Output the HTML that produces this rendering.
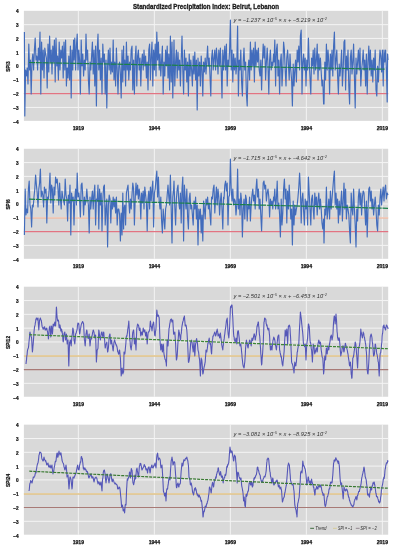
<!DOCTYPE html><html><head><meta charset="utf-8"><style>html,body{margin:0;padding:0;background:#fff;overflow:hidden}svg{display:block}text{font-family:"Liberation Sans",sans-serif}svg{will-change:transform}</style></head><body>
<svg width="395" height="550" viewBox="0 0 395 550">
<rect width="395" height="550" fill="#fff"/>
<text x="206" y="8.7" font-size="6.7" font-weight="bold" text-anchor="middle" textLength="146" lengthAdjust="spacingAndGlyphs" fill="#1a1a1a" stroke="#1a1a1a" stroke-width="0.3">Standardized Precipitation Index: Beirut, Lebanon</text>
<rect x="23.9" y="10.80" width="364.30" height="110.05" fill="#d9d9d9"/>
<line x1="23.9" x2="388.2" y1="107.45" y2="107.45" stroke="#f4f4f4" stroke-width="1"/>
<line x1="23.9" x2="388.2" y1="93.65" y2="93.65" stroke="#f4f4f4" stroke-width="1"/>
<line x1="23.9" x2="388.2" y1="79.85" y2="79.85" stroke="#f4f4f4" stroke-width="1"/>
<line x1="23.9" x2="388.2" y1="66.05" y2="66.05" stroke="#f4f4f4" stroke-width="1"/>
<line x1="23.9" x2="388.2" y1="52.25" y2="52.25" stroke="#f4f4f4" stroke-width="1"/>
<line x1="23.9" x2="388.2" y1="38.45" y2="38.45" stroke="#f4f4f4" stroke-width="1"/>
<line x1="23.9" x2="388.2" y1="24.65" y2="24.65" stroke="#f4f4f4" stroke-width="1"/>
<line x1="78.35" x2="78.35" y1="10.80" y2="120.85" stroke="#f4f4f4" stroke-width="1"/>
<line x1="154.35" x2="154.35" y1="10.80" y2="120.85" stroke="#f4f4f4" stroke-width="1"/>
<line x1="230.35" x2="230.35" y1="10.80" y2="120.85" stroke="#f4f4f4" stroke-width="1"/>
<line x1="306.35" x2="306.35" y1="10.80" y2="120.85" stroke="#f4f4f4" stroke-width="1"/>
<line x1="382.35" x2="382.35" y1="10.80" y2="120.85" stroke="#f4f4f4" stroke-width="1"/>
<text x="18.5" y="123.65" font-size="4.7" font-weight="bold" text-anchor="end" fill="#111" stroke="#111" stroke-width="0.22">−4</text>
<text x="18.5" y="109.85" font-size="4.7" font-weight="bold" text-anchor="end" fill="#111" stroke="#111" stroke-width="0.22">−3</text>
<text x="18.5" y="96.05" font-size="4.7" font-weight="bold" text-anchor="end" fill="#111" stroke="#111" stroke-width="0.22">−2</text>
<text x="18.5" y="82.25" font-size="4.7" font-weight="bold" text-anchor="end" fill="#111" stroke="#111" stroke-width="0.22">−1</text>
<text x="18.5" y="68.45" font-size="4.7" font-weight="bold" text-anchor="end" fill="#111" stroke="#111" stroke-width="0.22">0</text>
<text x="18.5" y="54.65" font-size="4.7" font-weight="bold" text-anchor="end" fill="#111" stroke="#111" stroke-width="0.22">1</text>
<text x="18.5" y="40.85" font-size="4.7" font-weight="bold" text-anchor="end" fill="#111" stroke="#111" stroke-width="0.22">2</text>
<text x="18.5" y="27.05" font-size="4.7" font-weight="bold" text-anchor="end" fill="#111" stroke="#111" stroke-width="0.22">3</text>
<text x="18.5" y="13.25" font-size="4.7" font-weight="bold" text-anchor="end" fill="#111" stroke="#111" stroke-width="0.22">4</text>
<text x="78.35" y="130.05" font-size="5.9" font-weight="bold" text-anchor="middle" textLength="11.4" lengthAdjust="spacingAndGlyphs" fill="#111" stroke="#111" stroke-width="0.25">1919</text>
<text x="154.35" y="130.05" font-size="5.9" font-weight="bold" text-anchor="middle" textLength="11.4" lengthAdjust="spacingAndGlyphs" fill="#111" stroke="#111" stroke-width="0.25">1944</text>
<text x="230.35" y="130.05" font-size="5.9" font-weight="bold" text-anchor="middle" textLength="11.4" lengthAdjust="spacingAndGlyphs" fill="#111" stroke="#111" stroke-width="0.25">1969</text>
<text x="306.35" y="130.05" font-size="5.9" font-weight="bold" text-anchor="middle" textLength="11.4" lengthAdjust="spacingAndGlyphs" fill="#111" stroke="#111" stroke-width="0.25">1994</text>
<text x="382.35" y="130.05" font-size="5.9" font-weight="bold" text-anchor="middle" textLength="11.4" lengthAdjust="spacingAndGlyphs" fill="#111" stroke="#111" stroke-width="0.25">2019</text>
<text x="0" y="0" transform="translate(10.1,66.55) rotate(-90)" font-size="5.6" font-weight="bold" text-anchor="middle" fill="#111" stroke="#111" stroke-width="0.22" textLength="10.2" lengthAdjust="spacingAndGlyphs">SPI3</text>
<line x1="23.9" x2="388.2" y1="80.05" y2="80.05" stroke="#f2a888" stroke-width="1.2"/>
<line x1="23.9" x2="388.2" y1="93.65" y2="93.65" stroke="#e27482" stroke-width="1.2"/>
<polyline fill="none" stroke="#426cbc" stroke-width="1.15" stroke-linejoin="round" points="24.40,32.00 24.80,116.00 25.60,70.00 26.40,76.00 27.20,68.00 28.00,84.00 28.80,44.00 29.60,70.00 30.40,60.00 31.20,94.00 32.00,62.00 32.80,54.00 33.60,70.00 34.40,50.00 35.20,38.00 36.00,60.00 36.80,56.00 37.60,70.00 38.40,48.00 39.20,60.00 40.00,32.00 40.80,94.00 41.60,42.00 42.40,70.00 43.20,50.00 44.00,78.00 44.80,48.00 45.60,54.00 46.40,58.00 47.20,88.00 48.00,44.00 48.80,72.00 49.60,36.00 50.40,62.00 51.20,50.00 52.00,74.00 52.80,46.00 53.60,62.00 54.40,40.00 55.20,82.00 56.00,38.00 56.80,66.00 57.60,56.00 58.40,80.00 59.20,42.00 60.00,70.00 60.80,50.00 61.60,58.00 62.40,46.00 63.20,78.00 64.00,42.00 64.80,70.00 65.60,40.00 66.40,86.00 67.20,68.00 68.00,78.00 68.80,56.00 69.60,80.00 70.40,46.00 71.20,98.00 72.00,50.00 72.80,70.00 73.60,40.00 74.00,60.00 74.80,38.00 75.60,70.00 76.40,46.00 77.20,34.00 78.00,70.00 78.80,50.00 79.60,60.00 80.40,94.00 81.20,40.00 82.00,66.00 82.80,54.00 83.60,76.00 84.40,60.00 85.20,70.00 86.00,34.00 86.80,60.00 87.60,50.00 88.40,80.00 89.20,94.00 90.00,62.00 90.80,70.00 91.60,56.00 92.40,42.00 93.20,74.00 94.00,50.00 94.80,86.00 95.60,46.00 96.40,106.00 97.20,50.00 98.00,34.00 98.80,70.00 99.60,50.00 100.40,80.00 101.20,58.00 102.00,94.00 102.80,44.00 103.60,62.00 104.40,54.00 105.20,94.00 106.00,60.00 106.80,108.00 107.60,66.00 108.40,50.00 109.20,70.00 110.00,48.00 110.80,74.00 111.60,62.00 112.40,72.00 113.20,40.00 114.00,80.00 114.80,62.00 115.60,86.00 116.40,48.00 117.20,70.00 118.00,94.00 118.80,66.00 119.60,62.00 120.40,74.00 121.20,98.00 122.00,50.00 122.80,82.00 123.60,46.00 124.00,70.00 124.80,60.00 125.60,86.00 126.40,42.00 127.20,70.00 128.00,56.00 128.80,80.00 129.60,62.00 130.40,70.00 131.20,50.00 132.00,46.00 132.80,90.00 133.60,60.00 134.40,94.00 135.20,58.00 136.00,46.00 136.80,86.00 137.60,56.00 138.40,50.00 139.20,70.00 140.00,58.00 140.80,86.00 141.60,62.00 142.40,54.00 143.20,70.00 144.00,50.00 144.80,66.00 145.60,56.00 146.40,78.00 147.20,62.00 148.00,90.00 148.80,50.00 149.60,44.00 150.40,80.00 151.20,56.00 152.00,42.00 152.80,86.00 153.60,50.00 154.40,70.00 155.20,44.00 156.00,76.00 156.80,32.00 157.60,60.00 158.40,42.00 159.20,70.00 160.00,54.00 160.80,76.00 161.60,60.00 162.40,46.00 163.20,94.00 164.00,62.00 164.80,76.00 165.60,50.00 166.40,66.00 167.20,46.00 168.00,78.00 168.80,54.00 169.60,90.00 170.40,36.00 171.20,82.00 172.00,42.00 172.80,98.00 173.60,62.00 174.00,40.00 174.80,86.00 175.60,62.00 176.40,50.00 177.20,78.00 178.00,52.00 178.80,70.00 179.60,60.00 180.40,86.00 181.20,60.00 182.00,36.00 182.80,70.00 183.60,94.00 184.40,50.00 185.20,70.00 186.00,58.00 186.80,82.00 187.60,62.00 188.40,96.00 189.20,54.00 190.00,76.00 190.80,60.00 191.60,70.00 192.40,86.00 193.20,56.00 194.00,74.00 194.80,52.00 195.60,80.00 196.40,60.00 197.20,110.00 198.00,58.00 198.80,76.00 199.60,62.00 200.40,86.00 201.20,56.00 202.00,70.00 202.80,96.00 203.60,62.00 204.40,72.00 205.20,58.00 206.00,74.00 206.80,60.00 207.60,46.00 208.40,66.00 209.20,58.00 210.00,76.00 210.80,96.00 211.60,58.00 212.40,50.00 213.20,70.00 214.00,58.00 214.80,50.00 215.60,70.00 216.40,48.00 217.20,58.00 218.00,74.00 218.80,50.00 219.60,66.00 220.40,48.00 221.20,70.00 222.00,98.00 222.80,50.00 223.60,70.00 224.00,60.00 224.80,46.00 225.60,70.00 226.40,44.00 227.20,86.00 228.00,60.00 228.80,66.00 229.60,50.00 230.40,20.00 231.20,70.00 232.00,50.00 232.80,82.00 233.60,54.00 234.40,70.00 235.20,58.00 236.00,74.00 236.80,64.00 237.60,26.00 238.40,96.00 239.20,60.00 240.00,70.00 240.80,50.00 241.60,82.00 242.40,96.00 243.20,62.00 244.00,48.00 244.80,70.00 245.60,62.00 246.40,94.00 247.20,106.00 248.00,70.00 248.80,60.00 249.60,80.00 250.40,42.00 251.20,70.00 252.00,50.00 252.80,66.00 253.60,48.00 254.40,82.00 255.20,42.00 256.00,66.00 256.80,50.00 257.60,62.00 258.40,48.00 259.20,70.00 260.00,76.00 260.80,60.00 261.60,90.00 262.40,62.00 263.20,44.00 264.00,58.00 264.80,46.00 265.60,80.00 266.40,62.00 267.20,48.00 268.00,66.00 268.80,94.00 269.60,60.00 270.40,50.00 271.20,70.00 272.00,62.00 272.80,66.00 273.60,54.00 274.00,62.00 274.80,40.00 275.60,86.00 276.40,50.00 277.20,44.00 278.00,76.00 278.80,60.00 279.60,94.00 280.40,62.00 281.20,54.00 282.00,86.00 282.80,70.00 283.60,42.00 284.40,50.00 285.20,70.00 286.00,86.00 286.80,58.00 287.60,50.00 288.40,64.00 289.20,80.00 290.00,54.00 290.80,70.00 291.60,80.00 292.40,106.00 293.20,64.00 294.00,86.00 294.80,70.00 295.60,60.00 296.40,82.00 297.20,50.00 298.00,62.00 298.80,46.00 299.60,70.00 300.40,36.00 301.20,30.00 302.00,94.00 302.80,62.00 303.60,54.00 304.40,70.00 305.20,58.00 306.00,86.00 306.80,60.00 307.60,70.00 308.40,38.00 309.20,62.00 310.00,78.00 310.80,94.00 311.60,58.00 312.40,66.00 313.20,50.00 314.00,74.00 314.80,48.00 315.60,70.00 316.40,60.00 317.20,44.00 318.00,80.00 318.80,54.00 319.60,70.00 320.40,58.00 321.20,72.00 322.00,86.00 322.80,80.00 323.60,104.00 324.00,104.00 324.80,62.00 325.60,80.00 326.40,44.00 327.20,70.00 328.00,50.00 328.80,62.00 329.60,94.00 330.40,54.00 331.20,70.00 332.00,50.00 332.80,76.00 333.60,46.00 334.40,32.00 335.20,70.00 336.00,60.00 336.80,50.00 337.60,76.00 338.40,94.00 339.20,64.00 340.00,76.00 340.80,66.00 341.60,50.00 342.40,86.00 343.20,70.00 344.00,42.00 344.80,40.00 345.60,90.00 346.40,56.00 347.20,70.00 348.00,50.00 348.80,86.00 349.60,104.00 350.40,58.00 351.20,50.00 352.00,74.00 352.80,62.00 353.60,44.00 354.40,76.00 355.20,108.00 356.00,58.00 356.80,74.00 357.60,62.00 358.40,50.00 359.20,70.00 360.00,48.00 360.80,86.00 361.60,70.00 362.40,62.00 363.20,50.00 364.00,70.00 364.80,60.00 365.60,86.00 366.40,54.00 367.20,94.00 368.00,62.00 368.80,46.00 369.60,70.00 370.40,50.00 371.20,76.00 372.00,60.00 372.80,82.00 373.60,58.00 374.40,70.00 375.20,50.00 376.00,90.00 376.80,96.00 377.60,66.00 378.40,82.00 379.20,64.00 380.00,50.00 380.80,56.00 381.60,72.00 382.40,50.00 383.20,86.00 384.00,50.00 384.80,62.00 385.60,50.00 386.40,70.00 387.20,102.00 387.60,54.00 388.00,60.00"/>
<line x1="29" y1="62.5" x2="384.6" y2="69.2" stroke="#1b8048" stroke-width="1.2" stroke-dasharray="6 0.8"/>
<text x="233.5" y="21.75" font-size="5.3" font-style="italic" fill="#333" textLength="93.5" lengthAdjust="spacingAndGlyphs">y = −1.237 × 10<tspan dy='-1.6' font-size='3.2'>−5</tspan><tspan dy='1.6'> × x + −5.219 × 10</tspan><tspan dy='-1.6' font-size='3.2'>−2</tspan></text>
<rect x="23.9" y="148.75" width="364.30" height="110.05" fill="#d9d9d9"/>
<line x1="23.9" x2="388.2" y1="245.40" y2="245.40" stroke="#f4f4f4" stroke-width="1"/>
<line x1="23.9" x2="388.2" y1="231.60" y2="231.60" stroke="#f4f4f4" stroke-width="1"/>
<line x1="23.9" x2="388.2" y1="217.80" y2="217.80" stroke="#f4f4f4" stroke-width="1"/>
<line x1="23.9" x2="388.2" y1="204.00" y2="204.00" stroke="#f4f4f4" stroke-width="1"/>
<line x1="23.9" x2="388.2" y1="190.20" y2="190.20" stroke="#f4f4f4" stroke-width="1"/>
<line x1="23.9" x2="388.2" y1="176.40" y2="176.40" stroke="#f4f4f4" stroke-width="1"/>
<line x1="23.9" x2="388.2" y1="162.60" y2="162.60" stroke="#f4f4f4" stroke-width="1"/>
<line x1="78.35" x2="78.35" y1="148.75" y2="258.80" stroke="#f4f4f4" stroke-width="1"/>
<line x1="154.35" x2="154.35" y1="148.75" y2="258.80" stroke="#f4f4f4" stroke-width="1"/>
<line x1="230.35" x2="230.35" y1="148.75" y2="258.80" stroke="#f4f4f4" stroke-width="1"/>
<line x1="306.35" x2="306.35" y1="148.75" y2="258.80" stroke="#f4f4f4" stroke-width="1"/>
<line x1="382.35" x2="382.35" y1="148.75" y2="258.80" stroke="#f4f4f4" stroke-width="1"/>
<text x="18.5" y="261.60" font-size="4.7" font-weight="bold" text-anchor="end" fill="#111" stroke="#111" stroke-width="0.22">−4</text>
<text x="18.5" y="247.80" font-size="4.7" font-weight="bold" text-anchor="end" fill="#111" stroke="#111" stroke-width="0.22">−3</text>
<text x="18.5" y="234.00" font-size="4.7" font-weight="bold" text-anchor="end" fill="#111" stroke="#111" stroke-width="0.22">−2</text>
<text x="18.5" y="220.20" font-size="4.7" font-weight="bold" text-anchor="end" fill="#111" stroke="#111" stroke-width="0.22">−1</text>
<text x="18.5" y="206.40" font-size="4.7" font-weight="bold" text-anchor="end" fill="#111" stroke="#111" stroke-width="0.22">0</text>
<text x="18.5" y="192.60" font-size="4.7" font-weight="bold" text-anchor="end" fill="#111" stroke="#111" stroke-width="0.22">1</text>
<text x="18.5" y="178.80" font-size="4.7" font-weight="bold" text-anchor="end" fill="#111" stroke="#111" stroke-width="0.22">2</text>
<text x="18.5" y="165.00" font-size="4.7" font-weight="bold" text-anchor="end" fill="#111" stroke="#111" stroke-width="0.22">3</text>
<text x="18.5" y="151.20" font-size="4.7" font-weight="bold" text-anchor="end" fill="#111" stroke="#111" stroke-width="0.22">4</text>
<text x="78.35" y="268.00" font-size="5.9" font-weight="bold" text-anchor="middle" textLength="11.4" lengthAdjust="spacingAndGlyphs" fill="#111" stroke="#111" stroke-width="0.25">1919</text>
<text x="154.35" y="268.00" font-size="5.9" font-weight="bold" text-anchor="middle" textLength="11.4" lengthAdjust="spacingAndGlyphs" fill="#111" stroke="#111" stroke-width="0.25">1944</text>
<text x="230.35" y="268.00" font-size="5.9" font-weight="bold" text-anchor="middle" textLength="11.4" lengthAdjust="spacingAndGlyphs" fill="#111" stroke="#111" stroke-width="0.25">1969</text>
<text x="306.35" y="268.00" font-size="5.9" font-weight="bold" text-anchor="middle" textLength="11.4" lengthAdjust="spacingAndGlyphs" fill="#111" stroke="#111" stroke-width="0.25">1994</text>
<text x="382.35" y="268.00" font-size="5.9" font-weight="bold" text-anchor="middle" textLength="11.4" lengthAdjust="spacingAndGlyphs" fill="#111" stroke="#111" stroke-width="0.25">2019</text>
<text x="0" y="0" transform="translate(10.1,204.50) rotate(-90)" font-size="5.6" font-weight="bold" text-anchor="middle" fill="#111" stroke="#111" stroke-width="0.22" textLength="10.2" lengthAdjust="spacingAndGlyphs">SPI6</text>
<line x1="23.9" x2="388.2" y1="218.00" y2="218.00" stroke="#f2a888" stroke-width="1.2"/>
<line x1="23.9" x2="388.2" y1="231.60" y2="231.60" stroke="#e27482" stroke-width="1.2"/>
<polyline fill="none" stroke="#426cbc" stroke-width="1.15" stroke-linejoin="round" points="24.40,235.00 25.20,189.00 26.00,215.00 26.80,209.00 27.60,213.00 28.40,189.00 29.20,181.00 30.00,205.00 30.80,209.00 31.60,227.00 32.40,205.00 33.20,207.00 34.00,197.00 34.80,189.00 35.60,175.00 36.40,185.00 37.20,193.00 38.00,207.00 38.80,189.00 39.60,183.00 40.40,169.00 41.20,197.00 42.00,191.00 42.80,195.00 43.60,207.00 44.40,187.00 45.20,193.00 46.00,189.00 46.80,223.00 47.60,197.00 48.40,199.00 49.20,189.00 50.00,173.00 50.80,203.00 51.60,185.00 52.40,189.00 53.20,213.00 54.00,187.00 54.80,195.00 55.60,177.00 56.40,183.00 57.20,179.00 58.00,189.00 58.80,205.00 59.60,183.00 60.40,199.00 61.20,209.00 62.00,191.00 62.80,197.00 63.60,201.00 64.40,205.00 65.20,179.00 66.00,195.00 66.80,199.00 67.60,221.00 68.40,195.00 69.20,203.00 70.00,185.00 70.80,235.00 71.60,193.00 72.40,201.00 73.20,197.00 74.00,225.00 74.80,199.00 75.60,189.00 76.40,205.00 77.20,173.00 78.00,197.00 78.80,193.00 79.60,201.00 80.40,217.00 81.20,185.00 82.00,183.00 82.80,197.00 83.60,215.00 84.40,197.00 85.20,205.00 86.00,201.00 86.80,189.00 87.60,199.00 88.40,205.00 89.20,233.00 90.00,197.00 90.80,209.00 91.60,199.00 92.40,191.00 93.20,209.00 94.00,193.00 94.80,185.00 95.60,225.00 96.40,199.00 97.20,201.00 98.00,185.00 98.80,229.00 99.60,189.00 100.40,205.00 101.20,193.00 102.00,231.00 102.80,201.00 103.60,187.00 104.40,185.00 105.20,225.00 106.00,209.00 106.80,199.00 107.60,247.00 108.40,205.00 109.20,195.00 110.00,199.00 110.80,223.00 111.60,201.00 112.40,209.00 113.20,197.00 114.00,207.00 114.80,199.00 115.60,213.00 116.40,197.00 117.20,225.00 118.00,209.00 118.80,209.00 119.60,215.00 120.40,241.00 121.20,213.00 122.00,235.00 122.80,193.00 123.60,229.00 124.00,209.00 124.80,205.00 125.60,225.00 126.40,193.00 127.20,189.00 128.00,185.00 128.80,201.00 129.60,213.00 130.40,199.00 131.20,209.00 132.00,195.00 132.80,183.00 133.60,189.00 134.40,225.00 135.20,199.00 136.00,183.00 136.80,195.00 137.60,185.00 138.40,199.00 139.20,189.00 140.00,197.00 140.80,219.00 141.60,193.00 142.40,203.00 143.20,191.00 144.00,209.00 144.80,187.00 145.60,195.00 146.40,203.00 147.20,231.00 148.00,199.00 148.80,191.00 149.60,209.00 150.40,187.00 151.20,201.00 152.00,189.00 152.80,181.00 153.60,227.00 154.40,193.00 155.20,189.00 156.00,179.00 156.80,171.00 157.60,197.00 158.40,177.00 159.20,201.00 160.00,209.00 160.80,197.00 161.60,221.00 162.40,233.00 163.20,209.00 164.00,219.00 164.80,229.00 165.60,209.00 166.40,205.00 167.20,195.00 168.00,185.00 168.80,197.00 169.60,205.00 170.40,175.00 171.20,209.00 172.00,243.00 172.80,197.00 173.60,189.00 174.00,181.00 174.80,207.00 175.60,225.00 176.40,199.00 177.20,189.00 178.00,185.00 178.80,203.00 179.60,209.00 180.40,193.00 181.20,223.00 182.00,189.00 182.80,177.00 183.60,241.00 184.40,185.00 185.20,199.00 186.00,209.00 186.80,189.00 187.60,217.00 188.40,229.00 189.20,199.00 190.00,193.00 190.80,209.00 191.60,205.00 192.40,215.00 193.20,225.00 194.00,201.00 194.80,209.00 195.60,197.00 196.40,219.00 197.20,205.00 198.00,245.00 198.80,209.00 199.60,219.00 200.40,209.00 201.20,233.00 202.00,215.00 202.80,241.00 203.60,201.00 204.40,209.00 205.20,219.00 206.00,199.00 206.80,205.00 207.60,197.00 208.40,209.00 209.20,203.00 210.00,215.00 210.80,225.00 211.60,197.00 212.40,199.00 213.20,189.00 214.00,185.00 214.80,213.00 215.60,199.00 216.40,187.00 217.20,205.00 218.00,189.00 218.80,197.00 219.60,215.00 220.40,201.00 221.20,193.00 222.00,209.00 222.80,229.00 223.60,197.00 224.00,199.00 224.80,185.00 225.60,181.00 226.40,191.00 227.20,183.00 228.00,225.00 228.80,197.00 229.60,195.00 230.40,159.00 231.20,189.00 232.00,201.00 232.80,189.00 233.60,205.00 234.40,199.00 235.20,201.00 236.00,215.00 236.80,205.00 237.60,169.00 238.40,209.00 239.20,199.00 240.00,215.00 240.80,193.00 241.60,201.00 242.40,237.00 243.20,209.00 244.00,199.00 244.80,219.00 245.60,195.00 246.40,199.00 247.20,221.00 248.00,205.00 248.80,209.00 249.60,197.00 250.40,221.00 251.20,205.00 252.00,195.00 252.80,189.00 253.60,201.00 254.40,195.00 255.20,209.00 256.00,189.00 256.80,179.00 257.60,197.00 258.40,189.00 259.20,209.00 260.00,199.00 260.80,215.00 261.60,231.00 262.40,205.00 263.20,183.00 264.00,181.00 264.80,189.00 265.60,185.00 266.40,201.00 267.20,193.00 268.00,189.00 268.80,197.00 269.60,217.00 270.40,199.00 271.20,205.00 272.00,201.00 272.80,209.00 273.60,197.00 274.00,201.00 274.80,189.00 275.60,209.00 276.40,199.00 277.20,181.00 278.00,209.00 278.80,203.00 279.60,215.00 280.40,237.00 281.20,199.00 282.00,225.00 282.80,213.00 283.60,189.00 284.40,179.00 285.20,199.00 286.00,189.00 286.80,223.00 287.60,191.00 288.40,209.00 289.20,185.00 290.00,201.00 290.80,219.00 291.60,209.00 292.40,245.00 293.20,201.00 294.00,225.00 294.80,205.00 295.60,215.00 296.40,209.00 297.20,205.00 298.00,197.00 298.80,187.00 299.60,173.00 300.40,189.00 301.20,223.00 302.00,199.00 302.80,193.00 303.60,211.00 304.40,225.00 305.20,199.00 306.00,209.00 306.80,201.00 307.60,225.00 308.40,177.00 309.20,193.00 310.00,209.00 310.80,225.00 311.60,199.00 312.40,195.00 313.20,209.00 314.00,219.00 314.80,193.00 315.60,205.00 316.40,197.00 317.20,215.00 318.00,201.00 318.80,193.00 319.60,209.00 320.40,199.00 321.20,209.00 322.00,223.00 322.80,229.00 323.60,219.00 324.00,243.00 324.80,209.00 325.60,215.00 326.40,187.00 327.20,219.00 328.00,209.00 328.80,199.00 329.60,219.00 330.40,191.00 331.20,209.00 332.00,199.00 332.80,189.00 333.60,179.00 334.40,171.00 335.20,205.00 336.00,193.00 336.80,209.00 337.60,199.00 338.40,223.00 339.20,201.00 340.00,215.00 340.80,203.00 341.60,191.00 342.40,221.00 343.20,201.00 344.00,183.00 344.80,209.00 345.60,189.00 346.40,219.00 347.20,205.00 348.00,209.00 348.80,215.00 349.60,231.00 350.40,243.00 351.20,193.00 352.00,209.00 352.80,215.00 353.60,189.00 354.40,209.00 355.20,225.00 356.00,247.00 356.80,209.00 357.60,221.00 358.40,197.00 359.20,189.00 360.00,205.00 360.80,193.00 361.60,215.00 362.40,197.00 363.20,191.00 364.00,193.00 364.80,209.00 365.60,225.00 366.40,201.00 367.20,237.00 368.00,209.00 368.80,189.00 369.60,187.00 370.40,201.00 371.20,191.00 372.00,209.00 372.80,199.00 373.60,215.00 374.40,205.00 375.20,197.00 376.00,209.00 376.80,225.00 377.60,231.00 378.40,205.00 379.20,215.00 380.00,199.00 380.80,189.00 381.60,205.00 382.40,195.00 383.20,187.00 384.00,201.00 384.80,189.00 385.60,185.00 386.40,199.00 387.20,193.00 388.00,195.00"/>
<line x1="29" y1="199.2" x2="388" y2="208.3" stroke="#1b8048" stroke-width="1.2" stroke-dasharray="6 0.8"/>
<text x="233.5" y="159.70" font-size="5.3" font-style="italic" fill="#333" textLength="93.5" lengthAdjust="spacingAndGlyphs">y = −1.715 × 10<tspan dy='-1.6' font-size='3.2'>−5</tspan><tspan dy='1.6'> × x + −4.642 × 10</tspan><tspan dy='-1.6' font-size='3.2'>−2</tspan></text>
<rect x="23.9" y="286.70" width="364.30" height="110.05" fill="#d9d9d9"/>
<line x1="23.9" x2="388.2" y1="383.35" y2="383.35" stroke="#f4f4f4" stroke-width="1"/>
<line x1="23.9" x2="388.2" y1="369.55" y2="369.55" stroke="#f4f4f4" stroke-width="1"/>
<line x1="23.9" x2="388.2" y1="355.75" y2="355.75" stroke="#f4f4f4" stroke-width="1"/>
<line x1="23.9" x2="388.2" y1="341.95" y2="341.95" stroke="#f4f4f4" stroke-width="1"/>
<line x1="23.9" x2="388.2" y1="328.15" y2="328.15" stroke="#f4f4f4" stroke-width="1"/>
<line x1="23.9" x2="388.2" y1="314.35" y2="314.35" stroke="#f4f4f4" stroke-width="1"/>
<line x1="23.9" x2="388.2" y1="300.55" y2="300.55" stroke="#f4f4f4" stroke-width="1"/>
<line x1="78.35" x2="78.35" y1="286.70" y2="396.75" stroke="#f4f4f4" stroke-width="1"/>
<line x1="154.35" x2="154.35" y1="286.70" y2="396.75" stroke="#f4f4f4" stroke-width="1"/>
<line x1="230.35" x2="230.35" y1="286.70" y2="396.75" stroke="#f4f4f4" stroke-width="1"/>
<line x1="306.35" x2="306.35" y1="286.70" y2="396.75" stroke="#f4f4f4" stroke-width="1"/>
<line x1="382.35" x2="382.35" y1="286.70" y2="396.75" stroke="#f4f4f4" stroke-width="1"/>
<text x="18.5" y="399.55" font-size="4.7" font-weight="bold" text-anchor="end" fill="#111" stroke="#111" stroke-width="0.22">−4</text>
<text x="18.5" y="385.75" font-size="4.7" font-weight="bold" text-anchor="end" fill="#111" stroke="#111" stroke-width="0.22">−3</text>
<text x="18.5" y="371.95" font-size="4.7" font-weight="bold" text-anchor="end" fill="#111" stroke="#111" stroke-width="0.22">−2</text>
<text x="18.5" y="358.15" font-size="4.7" font-weight="bold" text-anchor="end" fill="#111" stroke="#111" stroke-width="0.22">−1</text>
<text x="18.5" y="344.35" font-size="4.7" font-weight="bold" text-anchor="end" fill="#111" stroke="#111" stroke-width="0.22">0</text>
<text x="18.5" y="330.55" font-size="4.7" font-weight="bold" text-anchor="end" fill="#111" stroke="#111" stroke-width="0.22">1</text>
<text x="18.5" y="316.75" font-size="4.7" font-weight="bold" text-anchor="end" fill="#111" stroke="#111" stroke-width="0.22">2</text>
<text x="18.5" y="302.95" font-size="4.7" font-weight="bold" text-anchor="end" fill="#111" stroke="#111" stroke-width="0.22">3</text>
<text x="18.5" y="289.15" font-size="4.7" font-weight="bold" text-anchor="end" fill="#111" stroke="#111" stroke-width="0.22">4</text>
<text x="78.35" y="405.95" font-size="5.9" font-weight="bold" text-anchor="middle" textLength="11.4" lengthAdjust="spacingAndGlyphs" fill="#111" stroke="#111" stroke-width="0.25">1919</text>
<text x="154.35" y="405.95" font-size="5.9" font-weight="bold" text-anchor="middle" textLength="11.4" lengthAdjust="spacingAndGlyphs" fill="#111" stroke="#111" stroke-width="0.25">1944</text>
<text x="230.35" y="405.95" font-size="5.9" font-weight="bold" text-anchor="middle" textLength="11.4" lengthAdjust="spacingAndGlyphs" fill="#111" stroke="#111" stroke-width="0.25">1969</text>
<text x="306.35" y="405.95" font-size="5.9" font-weight="bold" text-anchor="middle" textLength="11.4" lengthAdjust="spacingAndGlyphs" fill="#111" stroke="#111" stroke-width="0.25">1994</text>
<text x="382.35" y="405.95" font-size="5.9" font-weight="bold" text-anchor="middle" textLength="11.4" lengthAdjust="spacingAndGlyphs" fill="#111" stroke="#111" stroke-width="0.25">2019</text>
<text x="0" y="0" transform="translate(10.1,342.45) rotate(-90)" font-size="5.6" font-weight="bold" text-anchor="middle" fill="#111" stroke="#111" stroke-width="0.22" textLength="13.0" lengthAdjust="spacingAndGlyphs">SPI12</text>
<line x1="23.9" x2="388.2" y1="355.95" y2="355.95" stroke="#e0c284" stroke-width="1.5"/>
<line x1="23.9" x2="388.2" y1="369.55" y2="369.55" stroke="#a87a76" stroke-width="1.2"/>
<polyline fill="none" stroke="#5557b8" stroke-width="1.1" stroke-linejoin="round" points="26.00,364.00 26.27,361.36 26.53,359.62 26.80,356.00 27.07,354.86 27.33,351.64 27.60,350.00 27.87,349.12 28.13,348.30 28.40,348.00 28.67,345.73 28.93,342.63 29.20,340.00 29.47,337.86 29.73,333.37 30.00,332.00 30.27,334.10 30.53,333.93 30.80,335.00 31.07,336.48 31.33,336.90 31.60,338.00 31.87,342.40 32.13,347.66 32.40,352.00 32.67,349.91 32.93,346.52 33.20,344.00 33.47,339.89 33.73,336.48 34.00,332.00 34.27,329.39 34.53,326.94 34.80,326.00 35.07,324.94 35.33,322.86 35.60,322.00 35.87,319.32 36.13,318.76 36.40,318.00 36.67,318.34 36.93,318.50 37.20,320.00 37.47,318.29 37.73,318.69 38.00,318.00 38.27,322.63 38.53,325.84 38.80,330.00 39.07,326.15 39.33,323.60 39.60,320.00 39.87,319.84 40.13,318.46 40.40,318.00 40.67,319.05 40.93,320.06 41.20,320.00 41.47,321.86 41.73,323.43 42.00,326.00 42.27,326.91 42.53,327.51 42.80,328.00 43.07,329.10 43.33,327.77 43.60,329.00 43.87,327.87 44.13,327.08 44.40,327.00 44.67,326.79 44.93,329.09 45.20,330.00 45.47,330.04 45.73,328.82 46.00,329.00 46.27,329.64 46.53,328.91 46.80,328.00 47.07,329.77 47.33,330.95 47.60,332.00 47.87,335.00 48.13,335.73 48.40,339.00 48.67,336.10 48.93,332.76 49.20,329.00 49.47,326.76 49.73,327.24 50.00,326.00 50.27,329.49 50.53,333.88 50.80,337.00 51.07,333.03 51.33,329.65 51.60,326.00 51.87,328.91 52.13,330.72 52.40,334.00 52.67,331.09 52.93,327.26 53.20,324.00 53.47,325.01 53.73,324.97 54.00,326.00 54.27,325.43 54.53,323.76 54.80,322.00 55.07,323.21 55.33,325.11 55.60,326.00 55.87,320.55 56.13,314.59 56.40,307.00 56.60,308.90 56.80,313.62 57.00,316.00 57.20,317.99 57.40,319.27 57.60,321.00 57.87,319.96 58.13,321.21 58.40,320.00 58.67,321.78 58.93,325.73 59.20,328.00 59.47,327.91 59.73,324.88 60.00,325.00 60.27,326.79 60.53,328.08 60.80,331.00 61.07,330.50 61.33,330.73 61.60,329.00 61.87,332.08 62.13,331.09 62.40,334.00 62.67,336.26 62.93,339.83 63.20,342.00 63.47,340.44 63.73,336.96 64.00,334.00 64.27,332.81 64.53,332.87 64.80,332.00 65.07,334.66 65.33,337.19 65.60,340.00 65.87,337.49 66.13,336.27 66.40,334.00 66.67,337.55 66.93,340.60 67.20,344.00 67.47,342.51 67.73,340.43 68.00,340.00 68.27,348.33 68.53,358.18 68.80,366.00 69.07,357.87 69.33,348.99 69.60,342.00 69.87,342.27 70.13,341.04 70.40,340.00 70.67,343.48 70.93,344.04 71.20,346.00 71.47,342.34 71.73,338.32 72.00,336.00 72.27,334.26 72.53,332.47 72.80,328.00 73.07,328.76 73.33,330.21 73.60,332.00 73.73,335.08 73.87,336.75 74.00,340.00 74.27,341.14 74.53,342.42 74.80,344.00 75.07,340.80 75.33,338.10 75.60,334.00 75.87,333.35 76.13,333.31 76.40,332.00 76.67,330.71 76.93,330.23 77.20,329.00 77.47,325.50 77.73,323.99 78.00,323.00 78.27,323.89 78.53,323.25 78.80,324.00 79.07,327.74 79.33,331.05 79.60,334.00 79.87,333.26 80.13,331.23 80.40,329.00 80.67,328.38 80.93,326.26 81.20,325.00 81.47,323.84 81.73,323.15 82.00,323.00 82.27,322.33 82.53,321.54 82.80,322.00 83.07,322.28 83.33,323.27 83.60,324.00 83.87,329.51 84.13,334.43 84.40,340.00 84.67,340.65 84.93,343.95 85.20,346.00 85.47,342.16 85.73,338.76 86.00,334.00 86.27,333.07 86.53,330.88 86.80,330.00 87.07,331.49 87.33,335.41 87.60,336.00 87.87,337.20 88.13,338.62 88.40,338.00 88.67,338.16 88.93,334.76 89.20,334.00 89.47,338.27 89.73,342.32 90.00,346.00 90.27,343.73 90.53,341.05 90.80,338.00 91.07,338.47 91.33,338.79 91.60,339.00 91.87,336.28 92.13,335.55 92.40,334.00 92.67,332.14 92.93,331.42 93.20,330.00 93.47,330.34 93.73,331.77 94.00,332.00 94.27,334.57 94.53,336.22 94.80,338.00 95.07,337.22 95.33,336.07 95.60,335.00 95.87,343.69 96.13,352.88 96.40,362.00 96.67,357.65 96.93,354.27 97.20,350.00 97.47,349.34 97.73,349.07 98.00,348.00 98.27,341.07 98.53,336.62 98.80,330.00 99.07,331.47 99.33,333.49 99.60,336.00 99.87,337.20 100.13,338.27 100.40,340.00 100.67,338.20 100.93,335.60 101.20,334.00 101.47,332.58 101.73,332.07 102.00,332.00 102.27,334.59 102.53,335.36 102.80,337.00 103.07,334.52 103.33,333.67 103.60,332.00 103.87,332.91 104.13,337.25 104.40,338.00 104.67,340.27 104.93,345.00 105.20,348.00 105.47,347.05 105.73,344.32 106.00,344.00 106.27,343.54 106.53,343.36 106.80,342.00 107.07,345.66 107.33,348.85 107.60,352.00 107.87,351.33 108.13,349.45 108.40,348.00 108.67,344.24 108.93,339.91 109.20,336.00 109.47,335.78 109.73,334.01 110.00,334.00 110.27,337.89 110.53,340.31 110.80,344.00 111.07,341.90 111.33,341.59 111.60,340.00 111.87,343.19 112.13,344.67 112.40,346.00 112.67,347.31 112.93,349.82 113.20,351.00 113.47,347.68 113.73,344.91 114.00,342.00 114.27,341.73 114.53,339.71 114.80,341.00 115.07,342.13 115.33,342.28 115.60,344.00 115.87,344.18 116.13,344.30 116.40,346.00 116.67,345.61 116.93,346.67 117.20,348.00 117.47,349.91 117.73,351.83 118.00,352.00 118.27,352.65 118.53,354.10 118.80,354.00 119.07,352.48 119.33,349.99 119.60,350.00 119.87,352.77 120.13,355.65 120.40,358.00 120.67,363.70 120.93,370.21 121.20,376.00 121.47,373.73 121.73,370.06 122.00,368.00 122.27,368.97 122.53,371.85 122.80,374.00 123.07,373.19 123.33,372.42 123.60,372.00 123.73,366.02 123.87,359.87 124.00,352.00 124.27,352.38 124.53,353.82 124.80,354.00 125.07,351.99 125.33,349.17 125.60,346.00 125.87,343.40 126.13,339.06 126.40,336.00 126.67,335.85 126.93,336.08 127.20,334.00 127.47,332.56 127.73,329.57 128.00,328.00 128.27,326.09 128.53,324.22 128.80,321.00 129.07,326.26 129.33,330.61 129.60,336.00 129.87,340.41 130.13,341.79 130.40,346.00 130.67,347.69 130.93,348.66 131.20,350.00 131.47,346.50 131.73,345.52 132.00,342.00 132.27,338.91 132.53,334.52 132.80,332.00 133.07,331.75 133.33,330.36 133.60,330.00 133.87,333.33 134.13,338.85 134.40,344.00 134.67,342.18 134.93,340.44 135.20,338.00 135.47,342.12 135.73,346.03 136.00,350.00 136.27,343.00 136.53,335.19 136.80,328.00 137.07,327.49 137.33,325.44 137.60,324.00 137.87,324.54 138.13,325.05 138.40,325.00 138.67,325.93 138.93,327.84 139.20,330.00 139.47,330.40 139.73,328.90 140.00,328.00 140.27,330.47 140.53,333.57 140.80,336.00 141.07,334.33 141.33,333.53 141.60,332.00 141.87,332.53 142.13,334.19 142.40,335.00 142.67,331.56 142.93,331.26 143.20,328.00 143.47,328.97 143.73,329.56 144.00,332.00 144.27,331.18 144.53,330.41 144.80,330.00 145.07,332.11 145.33,333.20 145.60,336.00 145.87,334.94 146.13,335.87 146.40,332.00 146.67,335.10 146.93,340.24 147.20,344.00 147.47,340.45 147.73,337.47 148.00,334.00 148.27,332.07 148.53,331.86 148.80,332.00 149.07,331.66 149.33,330.64 149.60,330.00 149.87,328.14 150.13,323.51 150.40,321.00 150.67,322.79 150.93,326.37 151.20,326.00 151.47,327.13 151.73,328.70 152.00,331.00 152.27,328.64 152.53,326.30 152.80,324.00 153.07,323.92 153.33,322.76 153.60,322.00 153.87,324.80 154.13,328.81 154.40,332.00 154.67,335.18 154.93,335.56 155.20,336.00 155.47,331.39 155.73,330.57 156.00,328.00 156.27,321.39 156.53,316.44 156.80,310.00 157.07,311.88 157.33,315.35 157.60,316.00 157.87,316.32 158.13,315.96 158.40,315.00 158.67,316.13 158.93,316.97 159.20,318.00 159.47,325.57 159.73,333.57 160.00,340.00 160.27,343.71 160.53,346.42 160.80,350.00 161.07,348.89 161.33,346.13 161.60,344.00 161.87,346.61 162.13,348.78 162.40,352.00 162.67,348.94 162.93,346.22 163.20,344.00 163.47,345.38 163.73,351.38 164.00,354.00 164.27,355.73 164.53,356.52 164.80,358.00 165.07,359.40 165.33,359.64 165.60,360.00 165.87,362.26 166.13,362.27 166.40,366.00 166.67,357.17 166.93,349.04 167.20,340.00 167.47,343.13 167.73,345.29 168.00,346.00 168.27,342.33 168.53,335.85 168.80,332.00 169.07,328.13 169.33,327.73 169.60,325.00 169.87,323.35 170.13,322.34 170.40,320.00 170.67,319.58 170.93,319.49 171.20,319.00 171.47,318.95 171.73,321.31 172.00,322.00 172.27,321.02 172.53,320.91 172.80,320.00 173.07,324.99 173.33,329.25 173.60,334.00 173.73,334.22 173.87,333.99 174.00,334.00 174.27,333.86 174.53,333.02 174.80,332.00 175.07,335.62 175.33,339.59 175.60,344.00 175.87,350.55 176.13,354.60 176.40,360.00 176.67,359.36 176.93,357.61 177.20,356.00 177.47,350.94 177.73,346.14 178.00,342.00 178.27,338.08 178.53,334.18 178.80,330.00 179.07,332.10 179.33,332.45 179.60,335.00 179.87,336.25 180.13,338.27 180.40,340.00 180.67,339.12 180.93,334.35 181.20,334.00 181.47,331.64 181.73,328.29 182.00,326.00 182.27,324.97 182.53,322.99 182.80,322.00 183.07,320.92 183.33,320.43 183.60,318.00 183.87,317.58 184.13,316.97 184.40,316.00 184.67,319.59 184.93,322.14 185.20,326.00 185.47,326.05 185.73,325.19 186.00,325.00 186.27,326.10 186.53,328.31 186.80,330.00 187.07,333.84 187.33,338.53 187.60,342.00 187.87,348.64 188.13,354.96 188.40,362.00 188.67,362.35 188.93,361.36 189.20,360.00 189.47,358.22 189.73,355.09 190.00,352.00 190.27,348.59 190.53,345.04 190.80,342.00 191.07,341.14 191.33,341.33 191.60,340.00 191.87,342.08 192.13,342.96 192.40,346.00 192.67,347.97 192.93,349.01 193.20,352.00 193.47,348.78 193.73,344.49 194.00,342.00 194.27,345.78 194.53,351.42 194.80,356.00 195.07,351.95 195.33,346.84 195.60,344.00 195.87,342.86 196.13,342.18 196.40,339.00 196.67,338.63 196.93,341.61 197.20,341.00 197.47,343.52 197.73,346.65 198.00,350.00 198.27,351.21 198.53,351.65 198.80,354.00 199.07,356.91 199.33,358.34 199.60,360.00 199.87,364.81 200.13,370.47 200.40,376.00 200.67,368.94 200.93,363.76 201.20,358.00 201.47,359.99 201.73,359.47 202.00,362.00 202.27,365.69 202.53,370.10 202.80,374.00 203.07,373.40 203.33,372.28 203.60,370.00 203.87,368.35 204.13,366.82 204.40,366.00 204.67,364.98 204.93,363.08 205.20,362.00 205.47,357.78 205.73,354.76 206.00,350.00 206.27,351.85 206.53,351.52 206.80,352.00 207.07,349.87 207.33,348.40 207.60,346.00 207.87,343.35 208.13,343.32 208.40,342.00 208.67,339.92 208.93,341.01 209.20,338.00 209.47,340.50 209.73,342.10 210.00,344.00 210.27,344.53 210.53,343.57 210.80,346.00 211.07,349.17 211.33,352.47 211.60,354.00 211.87,348.82 212.13,345.15 212.40,340.00 212.67,339.17 212.93,336.25 213.20,336.00 213.47,335.99 213.73,335.62 214.00,334.00 214.27,333.49 214.53,332.62 214.80,332.00 215.07,333.88 215.33,333.59 215.60,336.00 215.87,335.07 216.13,334.74 216.40,333.00 216.67,330.80 216.93,331.03 217.20,329.00 217.47,331.04 217.73,332.21 218.00,336.00 218.27,335.26 218.53,333.99 218.80,334.00 219.07,335.56 219.33,335.85 219.60,338.00 219.87,337.07 220.13,334.15 220.40,333.00 220.67,335.58 220.93,337.25 221.20,340.00 221.47,341.77 221.73,344.83 222.00,346.00 222.27,347.48 222.53,348.39 222.80,350.00 223.07,346.46 223.33,345.48 223.60,342.00 223.73,341.85 223.87,340.44 224.00,340.00 224.27,338.17 224.53,335.28 224.80,334.00 225.07,331.29 225.33,329.42 225.60,328.00 225.87,325.91 226.13,323.54 226.40,321.00 226.67,319.48 226.93,319.52 227.20,318.00 227.47,323.22 227.73,327.45 228.00,332.00 228.27,334.73 228.53,335.80 228.80,338.00 229.07,334.59 229.33,331.66 229.60,328.00 229.87,321.31 230.13,315.22 230.40,308.00 230.67,306.46 230.93,307.66 231.20,306.00 231.47,305.12 231.73,305.22 232.00,305.00 232.27,308.37 232.53,314.09 232.80,318.00 233.07,324.23 233.33,329.42 233.60,334.00 233.87,336.58 234.13,336.91 234.40,340.00 234.67,340.12 234.93,341.01 235.20,342.00 235.47,340.01 235.73,340.12 236.00,338.00 236.27,340.13 236.53,341.98 236.80,344.00 237.07,340.34 237.33,335.33 237.60,332.00 237.87,331.03 238.13,330.72 238.40,331.00 238.67,333.68 238.93,335.91 239.20,338.00 239.47,341.07 239.73,344.09 240.00,346.00 240.27,344.38 240.53,344.27 240.80,344.00 241.07,346.77 241.33,348.39 241.60,352.00 241.87,354.29 242.13,358.04 242.40,360.00 242.67,362.77 242.93,364.75 243.20,366.00 243.47,366.70 243.73,367.18 244.00,368.00 244.27,366.76 244.53,363.74 244.80,362.00 245.07,357.57 245.33,353.59 245.60,348.00 245.87,345.08 246.13,342.24 246.40,340.00 246.67,341.33 246.93,343.09 247.20,344.00 247.47,345.67 247.73,346.78 248.00,348.00 248.27,347.06 248.53,344.21 248.80,344.00 249.07,342.07 249.33,341.45 249.60,340.00 249.87,340.35 250.13,341.06 250.40,343.00 250.67,343.15 250.93,344.36 251.20,346.00 251.47,343.21 251.73,339.95 252.00,338.00 252.27,338.83 252.53,340.52 252.80,340.00 253.07,338.56 253.33,338.23 253.60,336.00 253.87,335.54 254.13,333.88 254.40,334.00 254.67,335.82 254.93,337.31 255.20,340.00 255.47,339.20 255.73,336.53 256.00,336.00 256.27,334.59 256.53,331.74 256.80,329.00 257.07,325.92 257.33,326.22 257.60,324.00 257.87,324.42 258.13,322.11 258.40,322.00 258.67,326.02 258.93,327.41 259.20,332.00 259.47,334.84 259.73,336.17 260.00,340.00 260.27,345.00 260.53,348.08 260.80,354.00 261.07,355.82 261.33,361.61 261.60,365.00 261.87,363.60 262.13,358.58 262.40,356.00 262.67,352.58 262.93,348.08 263.20,344.00 263.47,336.44 263.73,329.76 264.00,322.00 264.27,321.82 264.53,318.47 264.80,318.00 265.07,318.73 265.33,318.91 265.60,319.00 265.87,319.67 266.13,323.46 266.40,324.00 266.67,326.03 266.93,324.67 267.20,326.00 267.47,328.55 267.73,328.71 268.00,330.00 268.27,329.22 268.53,329.72 268.80,328.00 269.07,330.83 269.33,333.56 269.60,336.00 269.87,341.73 270.13,346.24 270.40,350.00 270.67,349.29 270.93,346.35 271.20,346.00 271.47,346.23 271.73,349.45 272.00,350.00 272.27,346.68 272.53,344.77 272.80,342.00 273.07,339.91 273.33,339.20 273.60,338.00 273.73,337.10 273.87,339.14 274.00,338.00 274.27,337.95 274.53,339.25 274.80,340.00 275.07,341.87 275.33,344.84 275.60,346.00 275.87,346.34 276.13,348.64 276.40,350.00 276.67,347.19 276.93,345.04 277.20,342.00 277.47,340.33 277.73,337.68 278.00,336.00 278.27,335.83 278.53,335.07 278.80,335.00 279.07,340.33 279.33,344.93 279.60,350.00 279.87,350.87 280.13,352.65 280.40,354.00 280.67,354.92 280.93,356.92 281.20,356.00 281.47,357.66 281.73,360.21 282.00,362.00 282.27,364.36 282.53,363.21 282.80,366.00 283.07,362.11 283.33,359.83 283.60,358.00 283.87,353.92 284.13,351.71 284.40,346.00 284.67,340.94 284.93,336.18 285.20,330.00 285.47,331.84 285.73,332.28 286.00,336.00 286.27,332.05 286.53,332.05 286.80,329.00 287.07,334.13 287.33,338.09 287.60,344.00 287.87,338.78 288.13,330.92 288.40,326.00 288.67,326.46 288.93,326.35 289.20,325.00 289.47,325.46 289.73,326.22 290.00,328.00 290.27,333.26 290.53,336.57 290.80,342.00 291.07,349.27 291.33,354.50 291.60,362.00 291.87,363.23 292.13,363.40 292.40,364.00 292.67,365.03 292.93,366.04 293.20,368.00 293.47,369.83 293.73,370.01 294.00,373.00 294.27,369.14 294.53,365.39 294.80,362.00 295.07,363.81 295.33,363.79 295.60,366.00 295.87,365.87 296.13,363.12 296.40,362.00 296.67,357.87 296.93,356.30 297.20,352.00 297.47,351.83 297.73,349.20 298.00,348.00 298.27,346.04 298.53,345.34 298.80,344.00 299.07,337.52 299.33,331.78 299.60,326.00 299.87,322.42 300.13,316.94 300.40,312.00 300.67,314.10 300.93,316.24 301.20,318.00 301.47,320.63 301.73,323.92 302.00,326.00 302.27,329.28 302.53,331.07 302.80,334.00 303.07,337.41 303.33,342.36 303.60,344.00 303.87,344.96 304.13,345.20 304.40,346.00 304.67,346.77 304.93,344.67 305.20,344.00 305.47,348.57 305.73,355.14 306.00,360.00 306.27,354.04 306.53,348.99 306.80,344.00 307.07,342.23 307.33,339.91 307.60,338.00 307.87,332.80 308.13,328.28 308.40,324.00 308.67,324.25 308.93,326.15 309.20,326.00 309.47,330.16 309.73,334.93 310.00,340.00 310.27,342.76 310.53,342.28 310.80,344.00 311.07,347.04 311.33,348.92 311.60,350.00 311.87,353.89 312.13,357.01 312.40,362.00 312.67,356.32 312.93,350.47 313.20,344.00 313.47,345.34 313.73,345.38 314.00,346.00 314.27,349.51 314.53,352.31 314.80,354.00 315.07,351.93 315.33,352.33 315.60,350.00 315.87,349.46 316.13,348.27 316.40,348.00 316.67,349.11 316.93,351.98 317.20,352.00 317.47,350.02 317.73,345.41 318.00,344.00 318.27,342.73 318.53,341.24 318.80,340.00 319.07,341.21 319.33,342.31 319.60,344.00 319.87,342.31 320.13,343.27 320.40,342.00 320.67,344.01 320.93,347.07 321.20,350.00 321.47,351.58 321.73,353.49 322.00,356.00 322.27,357.19 322.53,357.60 322.80,358.00 323.07,362.86 323.33,368.01 323.60,374.00 323.73,372.34 323.87,372.01 324.00,370.00 324.27,365.42 324.53,360.83 324.80,356.00 325.07,357.10 325.33,358.49 325.60,360.00 325.87,356.15 326.13,350.71 326.40,348.00 326.67,351.13 326.93,351.45 327.20,354.00 327.47,350.94 327.73,349.60 328.00,346.00 328.27,347.49 328.53,348.70 328.80,350.00 329.07,347.59 329.33,344.91 329.60,344.00 329.87,342.13 330.13,340.84 330.40,338.00 330.67,336.37 330.93,336.95 331.20,335.00 331.47,335.88 331.73,337.82 332.00,340.00 332.27,339.02 332.53,337.33 332.80,336.00 333.07,331.82 333.33,326.15 333.60,322.00 333.87,319.28 334.13,316.69 334.40,316.00 334.67,317.82 334.93,320.58 335.20,324.00 335.47,319.67 335.73,317.55 336.00,314.00 336.27,317.54 336.53,320.61 336.80,326.00 337.07,331.74 337.33,333.42 337.60,338.00 337.87,337.79 338.13,340.20 338.40,340.00 338.67,340.15 338.93,337.86 339.20,338.00 339.47,339.63 339.73,342.63 340.00,346.00 340.27,350.12 340.53,352.45 340.80,356.00 341.07,354.10 341.33,353.31 341.60,352.00 341.87,351.51 342.13,348.36 342.40,348.00 342.67,347.06 342.93,345.70 343.20,346.00 343.47,349.52 343.73,351.27 344.00,352.00 344.27,350.67 344.53,347.91 344.80,346.00 345.07,345.79 345.33,343.20 345.60,344.00 345.87,345.53 346.13,345.73 346.40,348.00 346.67,347.74 346.93,348.84 347.20,350.00 347.47,351.09 347.73,353.07 348.00,354.00 348.27,356.49 348.53,358.18 348.80,360.00 349.07,361.34 349.33,364.47 349.60,366.00 349.87,364.58 350.13,364.16 350.40,362.00 350.67,365.36 350.93,368.07 351.20,374.00 351.47,375.00 351.73,378.17 352.00,378.00 352.27,371.66 352.53,364.53 352.80,358.00 353.07,357.95 353.33,357.02 353.60,356.00 353.87,354.32 354.13,351.64 354.40,350.00 354.67,347.39 354.93,344.81 355.20,342.00 355.47,342.88 355.73,343.88 356.00,346.00 356.27,349.43 356.53,353.34 356.80,356.00 357.07,360.45 357.33,364.35 357.60,368.00 357.87,361.69 358.13,356.48 358.40,348.00 358.67,347.52 358.93,347.40 359.20,346.00 359.47,346.04 359.73,343.37 360.00,342.00 360.27,337.85 360.53,334.06 360.80,329.00 361.07,331.85 361.33,332.55 361.60,334.00 361.87,335.59 362.13,336.73 362.40,338.00 362.67,335.16 362.93,334.78 363.20,332.00 363.47,333.16 363.73,333.46 364.00,336.00 364.27,337.23 364.53,337.46 364.80,340.00 365.07,340.63 365.33,342.68 365.60,344.00 365.87,346.02 366.13,350.09 366.40,352.00 366.67,356.98 366.93,364.19 367.20,370.00 367.47,371.73 367.73,373.69 368.00,374.00 368.27,370.65 368.53,366.17 368.80,362.00 369.07,356.73 369.33,351.30 369.60,346.00 369.87,343.47 370.13,338.88 370.40,336.00 370.67,335.70 370.93,334.61 371.20,334.00 371.47,335.51 371.73,336.49 372.00,338.00 372.27,342.17 372.53,342.88 372.80,346.00 373.07,349.52 373.33,352.87 373.60,356.00 373.87,355.77 374.13,354.99 374.40,354.00 374.67,350.97 374.93,348.03 375.20,344.00 375.47,344.29 375.73,346.68 376.00,348.00 376.27,349.14 376.53,352.17 376.80,354.00 377.07,354.51 377.33,356.00 377.60,358.00 377.87,359.30 378.13,361.65 378.40,362.00 378.67,367.08 378.93,371.55 379.20,376.00 379.47,370.32 379.73,362.01 380.00,356.00 380.27,353.21 380.53,353.05 380.80,352.00 381.07,349.15 381.33,347.54 381.60,344.00 381.87,342.17 382.13,336.41 382.40,334.00 382.67,333.08 382.93,329.77 383.20,326.00 383.47,326.26 383.73,325.60 384.00,325.00 384.27,327.71 384.53,327.07 384.80,328.00 385.07,328.34 385.33,329.44 385.60,330.00 385.87,327.38 386.13,327.01 386.40,325.00 386.67,325.27 386.93,325.91 387.20,326.00 387.47,327.26 387.73,327.27 388.00,329.00"/>
<line x1="29.2" y1="334.7" x2="387.8" y2="348.7" stroke="#3d8636" stroke-width="1.2" stroke-dasharray="3 1"/>
<text x="233.5" y="297.65" font-size="5.3" font-style="italic" fill="#333" textLength="93.5" lengthAdjust="spacingAndGlyphs">y = −2.501 × 10<tspan dy='-1.6' font-size='3.2'>−5</tspan><tspan dy='1.6'> × x + −6.453 × 10</tspan><tspan dy='-1.6' font-size='3.2'>−2</tspan></text>
<rect x="23.9" y="424.65" width="364.30" height="110.05" fill="#d9d9d9"/>
<line x1="23.9" x2="388.2" y1="521.30" y2="521.30" stroke="#f4f4f4" stroke-width="1"/>
<line x1="23.9" x2="388.2" y1="507.50" y2="507.50" stroke="#f4f4f4" stroke-width="1"/>
<line x1="23.9" x2="388.2" y1="493.70" y2="493.70" stroke="#f4f4f4" stroke-width="1"/>
<line x1="23.9" x2="388.2" y1="479.90" y2="479.90" stroke="#f4f4f4" stroke-width="1"/>
<line x1="23.9" x2="388.2" y1="466.10" y2="466.10" stroke="#f4f4f4" stroke-width="1"/>
<line x1="23.9" x2="388.2" y1="452.30" y2="452.30" stroke="#f4f4f4" stroke-width="1"/>
<line x1="23.9" x2="388.2" y1="438.50" y2="438.50" stroke="#f4f4f4" stroke-width="1"/>
<line x1="78.35" x2="78.35" y1="424.65" y2="534.70" stroke="#f4f4f4" stroke-width="1"/>
<line x1="154.35" x2="154.35" y1="424.65" y2="534.70" stroke="#f4f4f4" stroke-width="1"/>
<line x1="230.35" x2="230.35" y1="424.65" y2="534.70" stroke="#f4f4f4" stroke-width="1"/>
<line x1="306.35" x2="306.35" y1="424.65" y2="534.70" stroke="#f4f4f4" stroke-width="1"/>
<line x1="382.35" x2="382.35" y1="424.65" y2="534.70" stroke="#f4f4f4" stroke-width="1"/>
<text x="18.5" y="537.50" font-size="4.7" font-weight="bold" text-anchor="end" fill="#111" stroke="#111" stroke-width="0.22">−4</text>
<text x="18.5" y="523.70" font-size="4.7" font-weight="bold" text-anchor="end" fill="#111" stroke="#111" stroke-width="0.22">−3</text>
<text x="18.5" y="509.90" font-size="4.7" font-weight="bold" text-anchor="end" fill="#111" stroke="#111" stroke-width="0.22">−2</text>
<text x="18.5" y="496.10" font-size="4.7" font-weight="bold" text-anchor="end" fill="#111" stroke="#111" stroke-width="0.22">−1</text>
<text x="18.5" y="482.30" font-size="4.7" font-weight="bold" text-anchor="end" fill="#111" stroke="#111" stroke-width="0.22">0</text>
<text x="18.5" y="468.50" font-size="4.7" font-weight="bold" text-anchor="end" fill="#111" stroke="#111" stroke-width="0.22">1</text>
<text x="18.5" y="454.70" font-size="4.7" font-weight="bold" text-anchor="end" fill="#111" stroke="#111" stroke-width="0.22">2</text>
<text x="18.5" y="440.90" font-size="4.7" font-weight="bold" text-anchor="end" fill="#111" stroke="#111" stroke-width="0.22">3</text>
<text x="18.5" y="427.10" font-size="4.7" font-weight="bold" text-anchor="end" fill="#111" stroke="#111" stroke-width="0.22">4</text>
<text x="78.35" y="543.90" font-size="5.9" font-weight="bold" text-anchor="middle" textLength="11.4" lengthAdjust="spacingAndGlyphs" fill="#111" stroke="#111" stroke-width="0.25">1919</text>
<text x="154.35" y="543.90" font-size="5.9" font-weight="bold" text-anchor="middle" textLength="11.4" lengthAdjust="spacingAndGlyphs" fill="#111" stroke="#111" stroke-width="0.25">1944</text>
<text x="230.35" y="543.90" font-size="5.9" font-weight="bold" text-anchor="middle" textLength="11.4" lengthAdjust="spacingAndGlyphs" fill="#111" stroke="#111" stroke-width="0.25">1969</text>
<text x="306.35" y="543.90" font-size="5.9" font-weight="bold" text-anchor="middle" textLength="11.4" lengthAdjust="spacingAndGlyphs" fill="#111" stroke="#111" stroke-width="0.25">1994</text>
<text x="382.35" y="543.90" font-size="5.9" font-weight="bold" text-anchor="middle" textLength="11.4" lengthAdjust="spacingAndGlyphs" fill="#111" stroke="#111" stroke-width="0.25">2019</text>
<text x="0" y="0" transform="translate(10.1,480.40) rotate(-90)" font-size="5.6" font-weight="bold" text-anchor="middle" fill="#111" stroke="#111" stroke-width="0.22" textLength="13.0" lengthAdjust="spacingAndGlyphs">SPI24</text>
<line x1="23.9" x2="388.2" y1="493.90" y2="493.90" stroke="#e0c284" stroke-width="1.5"/>
<line x1="23.9" x2="388.2" y1="507.50" y2="507.50" stroke="#a87a76" stroke-width="1.2"/>
<polyline fill="none" stroke="#5557b8" stroke-width="1.1" stroke-linejoin="round" points="29.00,491.00 29.33,489.26 29.67,484.97 30.00,483.00 30.33,482.96 30.67,480.56 31.00,481.00 31.33,481.94 31.67,481.77 32.00,483.00 32.33,481.71 32.67,479.89 33.00,479.00 33.33,476.95 33.67,477.16 34.00,477.40 34.33,476.66 34.67,476.25 35.00,475.00 35.33,473.32 35.67,472.19 36.00,473.00 36.33,470.07 36.67,468.20 37.00,466.00 37.33,464.57 37.67,463.44 38.00,463.00 38.33,460.94 38.67,458.35 39.00,455.00 39.33,454.53 39.67,452.35 40.00,452.00 40.33,452.40 40.67,452.54 41.00,453.00 41.33,454.01 41.67,457.63 42.00,459.00 42.33,459.74 42.67,460.00 43.00,461.00 43.33,460.67 43.67,458.88 44.00,457.00 44.33,458.61 44.67,459.85 45.00,460.00 45.33,461.18 45.67,460.46 46.00,462.00 46.33,462.74 46.67,464.71 47.00,465.00 47.33,463.81 47.67,463.70 48.00,463.00 48.33,464.62 48.67,466.69 49.00,467.00 49.33,467.25 49.67,466.31 50.00,465.00 50.33,465.88 50.67,467.65 51.00,468.00 51.33,467.38 51.67,465.90 52.00,465.00 52.33,468.96 52.67,471.36 53.00,474.00 53.33,471.81 53.67,471.56 54.00,469.00 54.33,466.83 54.67,465.42 55.00,463.00 55.33,461.28 55.67,461.66 56.00,461.00 56.33,457.68 56.67,454.99 57.00,453.00 57.33,453.00 57.67,457.17 58.00,457.00 58.33,454.90 58.67,453.17 59.00,451.00 59.33,453.12 59.67,453.59 60.00,455.00 60.33,454.70 60.67,452.72 61.00,453.00 61.33,455.48 61.67,457.38 62.00,460.00 62.33,461.36 62.67,462.13 63.00,463.00 63.33,463.37 63.67,464.38 64.00,467.00 64.33,467.30 64.67,469.52 65.00,470.00 65.33,468.64 65.67,466.95 66.00,465.00 66.33,467.59 66.67,471.12 67.00,477.00 67.33,475.90 67.67,475.44 68.00,475.00 68.33,479.25 68.67,484.59 69.00,489.00 69.33,484.88 69.67,480.17 70.00,477.00 70.33,477.05 70.67,478.44 71.00,479.00 71.33,482.39 71.67,485.62 72.00,489.00 72.33,486.59 72.67,480.82 73.00,477.00 73.33,477.42 73.67,476.97 74.00,478.00 74.33,476.75 74.67,476.37 75.00,475.00 75.33,474.73 75.67,473.56 76.00,473.00 76.33,471.61 76.67,469.71 77.00,468.00 77.33,466.35 77.67,465.04 78.00,467.00 78.33,469.62 78.67,469.58 79.00,470.00 79.33,467.96 79.67,464.78 80.00,464.00 80.33,461.77 80.67,462.28 81.00,460.00 81.20,456.91 81.40,457.51 81.60,456.60 81.87,458.01 82.13,458.30 82.40,459.00 82.60,461.53 82.80,462.91 83.00,465.00 83.33,468.34 83.67,467.61 84.00,470.00 84.33,468.38 84.67,468.86 85.00,468.00 85.33,469.67 85.67,469.29 86.00,470.00 86.33,471.40 86.67,470.96 87.00,472.00 87.33,471.50 87.67,473.65 88.00,473.00 88.33,475.76 88.67,477.41 89.00,478.00 89.33,477.03 89.67,475.86 90.00,476.00 90.33,474.51 90.67,474.51 91.00,474.00 91.33,475.74 91.67,477.02 92.00,478.00 92.33,476.66 92.67,477.47 93.00,477.00 93.33,478.68 93.67,480.40 94.00,482.00 94.33,480.65 94.67,479.19 95.00,478.00 95.33,478.08 95.67,477.42 96.00,477.00 96.33,477.82 96.67,477.85 97.00,479.00 97.33,480.94 97.67,482.25 98.00,484.00 98.33,481.85 98.67,483.01 99.00,482.00 99.33,482.81 99.67,484.65 100.00,485.00 100.33,483.89 100.67,482.93 101.00,482.00 101.33,485.15 101.67,487.99 102.00,491.00 102.20,486.69 102.40,481.74 102.60,479.00 102.93,477.62 103.27,472.56 103.60,471.00 103.87,470.43 104.13,470.79 104.40,470.00 104.60,471.27 104.80,472.40 105.00,473.00 105.33,476.87 105.67,480.55 106.00,483.00 106.33,480.21 106.67,479.03 107.00,474.00 107.33,474.29 107.67,476.16 108.00,477.00 108.33,478.75 108.67,480.62 109.00,483.00 109.33,480.53 109.67,478.69 110.00,475.00 110.33,474.17 110.67,473.84 111.00,474.00 111.33,476.84 111.67,479.05 112.00,481.00 112.33,481.70 112.67,480.39 113.00,479.00 113.33,480.16 113.67,480.77 114.00,482.00 114.33,482.82 114.67,483.21 115.00,484.00 115.33,483.04 115.67,484.01 116.00,484.00 116.33,484.21 116.67,484.50 117.00,485.00 117.33,486.03 117.67,488.85 118.00,489.00 118.33,488.82 118.67,488.32 119.00,487.00 119.33,487.24 119.67,487.62 120.00,489.00 120.33,492.14 120.67,495.84 121.00,499.00 121.20,501.42 121.40,504.20 121.60,507.00 121.87,507.01 122.13,505.88 122.40,505.00 122.67,506.31 122.93,508.70 123.20,511.00 123.47,509.87 123.73,509.79 124.00,509.00 124.20,509.52 124.40,511.54 124.60,513.00 124.80,510.82 125.00,507.69 125.20,505.00 125.47,504.36 125.73,504.57 126.00,505.00 126.20,499.75 126.40,494.67 126.60,489.00 126.80,486.59 127.00,482.90 127.20,480.00 127.47,478.74 127.73,480.33 128.00,479.00 128.33,478.21 128.67,477.28 129.00,476.00 129.20,474.88 129.40,472.61 129.60,472.00 129.87,473.78 130.13,476.18 130.40,478.00 130.60,476.39 130.80,473.38 131.00,471.00 131.33,468.48 131.67,470.16 132.00,470.00 132.33,474.58 132.67,479.57 133.00,483.00 133.33,483.50 133.67,484.74 134.00,483.00 134.33,481.33 134.67,478.61 135.00,475.00 135.20,476.99 135.40,476.70 135.60,479.00 135.87,476.59 136.13,473.42 136.40,470.00 136.60,468.97 136.80,469.08 137.00,468.00 137.33,470.63 137.67,472.34 138.00,475.00 138.20,475.58 138.40,476.15 138.60,477.00 138.87,473.49 139.13,469.37 139.40,466.00 139.73,465.71 140.07,463.32 140.40,464.00 140.60,464.14 140.80,463.49 141.00,465.00 141.33,466.33 141.67,468.70 142.00,470.00 142.33,469.35 142.67,468.59 143.00,468.00 143.33,467.05 143.67,467.10 144.00,465.00 144.33,464.56 144.67,466.29 145.00,466.00 145.33,466.27 145.67,468.34 146.00,470.00 146.33,469.78 146.67,468.74 147.00,469.00 147.20,470.48 147.40,472.18 147.60,473.00 147.87,470.16 148.13,468.95 148.40,467.00 148.73,467.40 149.07,466.98 149.40,469.00 149.60,470.20 149.80,471.11 150.00,473.00 150.33,471.94 150.67,468.39 151.00,467.00 151.33,467.52 151.67,465.29 152.00,465.00 152.33,467.36 152.67,467.38 153.00,468.00 153.33,467.32 153.67,466.56 154.00,465.00 154.33,464.96 154.67,464.65 155.00,463.00 155.33,465.88 155.67,466.09 156.00,468.00 156.33,462.79 156.67,457.46 157.00,455.00 157.20,454.06 157.40,454.20 157.60,453.00 157.87,455.60 158.13,457.75 158.40,460.00 158.67,459.09 158.93,458.22 159.20,458.00 159.47,458.13 159.73,458.94 160.00,459.00 160.33,460.76 160.67,465.51 161.00,468.00 161.33,465.98 161.67,465.89 162.00,465.00 162.20,467.89 162.40,471.41 162.60,475.00 162.87,479.60 163.13,484.86 163.40,491.00 163.73,492.17 164.07,492.91 164.40,495.00 164.73,496.05 165.07,493.37 165.40,493.00 165.60,495.20 165.80,497.94 166.00,501.00 166.27,496.25 166.53,491.28 166.80,489.00 167.07,488.82 167.33,489.21 167.60,489.00 167.87,485.94 168.13,485.00 168.40,483.00 168.67,480.15 168.93,478.97 169.20,477.00 169.47,478.25 169.73,479.33 170.00,480.00 170.20,476.63 170.40,472.17 170.60,469.00 170.80,466.94 171.00,463.35 171.20,461.00 171.47,459.91 171.73,458.82 172.00,457.00 172.33,459.45 172.67,461.43 173.00,465.00 173.33,464.42 173.67,462.21 174.00,462.00 174.27,461.70 174.53,461.89 174.80,463.00 175.07,467.58 175.33,470.88 175.60,475.00 175.87,477.42 176.13,483.51 176.40,487.00 176.67,487.78 176.93,486.92 177.20,485.00 177.47,483.93 177.73,483.71 178.00,483.00 178.27,484.68 178.53,486.29 178.80,487.00 179.07,486.02 179.33,484.23 179.60,484.00 179.87,484.19 180.13,483.76 180.40,483.00 180.67,478.06 180.93,474.74 181.20,471.00 181.47,468.51 181.73,465.66 182.00,463.00 182.27,464.36 182.53,465.55 182.80,466.00 183.07,464.70 183.33,462.58 183.60,461.00 183.87,459.71 184.13,460.76 184.40,460.00 184.67,460.64 184.93,460.71 185.20,459.00 185.47,458.63 185.73,458.30 186.00,458.00 186.27,458.67 186.53,458.33 186.80,457.00 187.07,458.23 187.33,459.49 187.60,460.00 187.87,461.12 188.13,463.73 188.40,465.00 188.60,468.41 188.80,472.89 189.00,477.00 189.20,477.57 189.40,478.00 189.60,479.00 189.87,479.51 190.13,482.41 190.40,485.00 190.67,484.56 190.93,483.61 191.20,483.00 191.47,484.05 191.73,485.96 192.00,487.00 192.27,489.47 192.53,491.58 192.80,493.00 193.07,493.09 193.33,494.34 193.60,495.00 193.87,493.09 194.13,491.04 194.40,490.00 194.67,488.27 194.93,488.59 195.20,488.00 195.47,487.71 195.73,490.16 196.00,489.00 196.27,490.59 196.53,492.16 196.80,494.00 197.07,493.71 197.33,495.30 197.60,494.00 197.87,494.33 198.13,495.88 198.40,497.00 198.67,495.78 198.93,495.57 199.20,495.00 199.47,495.63 199.73,497.09 200.00,497.00 200.27,497.00 200.53,498.97 200.80,500.00 201.07,501.45 201.33,500.30 201.60,501.00 201.87,503.53 202.13,505.70 202.40,509.00 202.60,509.82 202.80,514.25 203.00,517.00 203.20,516.48 203.40,513.99 203.60,513.00 203.87,511.03 204.13,511.84 204.40,511.00 204.67,509.38 204.93,508.36 205.20,506.00 205.47,506.96 205.73,506.47 206.00,507.00 206.27,506.27 206.53,503.73 206.80,504.00 207.07,503.77 207.33,502.12 207.60,501.00 207.87,500.41 208.13,499.07 208.40,497.00 208.60,495.45 208.80,494.22 209.00,493.00 209.20,490.38 209.40,487.54 209.60,487.00 209.87,487.56 210.13,488.43 210.40,489.00 210.67,489.56 210.93,492.15 211.20,493.00 211.47,490.39 211.73,487.97 212.00,485.00 212.27,483.78 212.53,482.42 212.80,483.00 213.07,484.87 213.33,486.08 213.60,487.00 213.87,484.91 214.13,482.69 214.40,481.00 214.67,480.13 214.93,479.56 215.20,479.00 215.47,478.30 215.73,476.91 216.00,478.00 216.27,477.20 216.53,474.28 216.80,474.00 217.07,472.76 217.33,471.77 217.60,471.00 217.87,470.17 218.13,467.86 218.40,468.00 218.67,470.50 218.93,471.78 219.20,473.00 219.47,474.19 219.73,475.21 220.00,475.00 220.27,473.76 220.53,471.46 220.80,473.00 221.07,474.56 221.33,476.58 221.60,477.00 221.87,477.47 222.13,475.95 222.40,476.00 222.67,478.26 222.93,480.86 223.20,483.00 223.47,480.40 223.73,479.86 224.00,479.00 224.33,477.22 224.67,477.44 225.00,475.00 225.33,474.21 225.67,475.43 226.00,474.00 226.33,471.34 226.67,467.49 227.00,466.00 227.33,467.22 227.67,464.65 228.00,465.00 228.33,463.77 228.67,462.86 229.00,460.00 229.33,455.29 229.67,450.47 230.00,447.00 230.33,449.73 230.67,451.05 231.00,453.00 231.33,451.47 231.67,450.91 232.00,451.00 232.33,452.73 232.67,455.67 233.00,457.00 233.20,458.13 233.40,460.12 233.60,461.00 233.87,460.16 234.13,457.89 234.40,455.00 234.67,456.34 234.93,456.53 235.20,456.00 235.47,457.21 235.73,461.52 236.00,463.00 236.20,466.90 236.40,470.25 236.60,474.00 236.80,476.24 237.00,478.89 237.20,483.00 237.33,478.89 237.47,476.32 237.60,473.00 237.87,472.18 238.13,472.43 238.40,473.00 238.67,473.90 238.93,476.13 239.20,477.00 239.47,477.46 239.73,478.23 240.00,479.00 240.33,479.60 240.67,478.11 241.00,478.00 241.20,480.75 241.40,481.93 241.60,485.00 241.87,486.56 242.13,487.75 242.40,489.00 242.60,490.46 242.80,491.34 243.00,493.00 243.20,494.95 243.40,498.12 243.60,501.00 243.80,499.34 244.00,499.06 244.20,497.00 244.40,500.30 244.60,501.49 244.80,505.00 245.00,506.11 245.20,506.00 245.40,507.00 245.60,503.32 245.80,498.66 246.00,495.00 246.27,494.30 246.53,496.38 246.80,496.00 247.07,495.32 247.33,493.14 247.60,493.00 247.87,491.01 248.13,491.29 248.40,491.00 248.67,487.51 248.93,485.41 249.20,483.00 249.47,483.10 249.73,483.36 250.00,482.00 250.27,482.75 250.53,484.96 250.80,485.00 251.07,484.82 251.33,482.70 251.60,482.00 251.87,482.50 252.13,485.93 252.40,487.00 252.67,486.09 252.93,485.98 253.20,483.00 253.47,482.34 253.73,480.22 254.00,478.00 254.33,479.18 254.67,477.27 255.00,478.00 255.33,477.14 255.67,475.81 256.00,475.00 256.33,474.89 256.67,472.73 257.00,471.00 257.20,467.53 257.40,469.30 257.60,467.00 257.87,467.37 258.13,469.55 258.40,470.00 258.67,470.67 258.93,472.18 259.20,473.00 259.47,474.12 259.73,474.48 260.00,475.00 260.27,475.67 260.53,478.66 260.80,479.00 261.07,480.29 261.33,481.00 261.60,482.00 261.87,482.17 262.13,480.97 262.40,481.00 262.67,481.66 262.93,479.84 263.20,479.00 263.47,478.60 263.73,477.92 264.00,477.00 264.33,476.37 264.67,476.19 265.00,477.00 265.33,475.50 265.67,473.93 266.00,472.00 266.20,470.62 266.40,467.66 266.60,465.00 266.80,462.25 267.00,461.38 267.20,459.00 267.47,459.26 267.73,459.05 268.00,458.00 268.27,458.91 268.53,458.49 268.80,460.00 269.07,463.83 269.33,465.50 269.60,469.00 269.87,471.42 270.13,471.91 270.40,475.00 270.67,476.88 270.93,477.13 271.20,479.00 271.47,481.10 271.73,482.91 272.00,483.00 272.27,482.17 272.53,478.86 272.80,478.00 273.07,479.35 273.33,481.40 273.60,484.00 273.73,484.81 273.87,484.92 274.00,485.00 274.33,484.46 274.67,483.90 275.00,483.00 275.33,482.75 275.67,482.13 276.00,481.00 276.33,481.86 276.67,480.31 277.00,480.00 277.20,481.15 277.40,480.71 277.60,483.00 277.87,483.42 278.13,485.19 278.40,487.00 278.67,485.51 278.93,485.83 279.20,485.00 279.47,487.07 279.73,487.37 280.00,489.00 280.27,488.00 280.53,487.31 280.80,487.00 281.07,488.43 281.33,489.29 281.60,491.00 281.87,494.97 282.13,498.55 282.40,502.00 282.67,501.25 282.93,500.54 283.20,499.00 283.47,498.36 283.73,497.77 284.00,497.00 284.27,496.90 284.53,494.30 284.80,493.00 285.07,492.23 285.33,490.37 285.60,489.00 285.87,487.35 286.13,486.01 286.40,485.00 286.67,481.09 286.93,478.34 287.20,475.00 287.47,471.24 287.73,468.04 288.00,465.00 288.20,465.19 288.40,463.57 288.60,463.00 288.87,464.46 289.13,464.52 289.40,465.00 289.60,468.27 289.80,469.90 290.00,473.00 290.27,475.77 290.53,480.18 290.80,481.00 291.07,482.24 291.33,483.03 291.60,483.00 291.87,483.83 292.13,484.93 292.40,485.00 292.67,484.18 292.93,484.40 293.20,485.00 293.47,487.30 293.73,489.57 294.00,491.00 294.27,495.38 294.53,500.20 294.80,505.00 295.07,506.08 295.33,507.53 295.60,509.00 295.87,509.49 296.13,510.66 296.40,513.00 296.60,514.27 296.80,514.44 297.00,517.00 297.20,512.31 297.40,508.53 297.60,505.00 297.87,502.92 298.13,502.49 298.40,501.00 298.67,499.34 298.93,498.27 299.20,497.00 299.47,492.28 299.73,488.47 300.00,485.00 300.20,481.35 300.40,477.24 300.60,473.00 300.80,471.99 301.00,471.91 301.20,471.00 301.47,471.78 301.73,472.43 302.00,473.00 302.27,470.10 302.53,464.70 302.80,461.00 303.07,462.94 303.33,464.61 303.60,466.00 303.87,466.15 304.13,465.83 304.40,467.00 304.67,468.13 304.93,468.49 305.20,469.00 305.47,471.01 305.73,472.99 306.00,475.00 306.27,478.32 306.53,481.02 306.80,485.00 307.07,483.85 307.33,481.04 307.60,481.00 307.87,479.62 308.13,477.26 308.40,477.00 308.67,478.72 308.93,481.47 309.20,483.00 309.47,482.12 309.73,481.30 310.00,481.00 310.27,482.66 310.53,483.44 310.80,485.00 311.07,482.68 311.33,480.69 311.60,479.00 311.87,481.36 312.13,482.10 312.40,483.00 312.67,484.30 312.93,484.13 313.20,486.00 313.47,487.40 313.73,487.06 314.00,489.00 314.27,491.30 314.53,492.18 314.80,495.00 315.07,494.33 315.33,489.78 315.60,489.00 315.87,489.48 316.13,488.85 316.40,488.00 316.67,486.38 316.93,487.12 317.20,487.00 317.47,488.64 317.73,489.09 318.00,489.00 318.27,486.80 318.53,486.59 318.80,486.00 319.07,485.47 319.33,485.91 319.60,487.00 319.87,485.84 320.13,486.91 320.40,485.00 320.67,485.72 320.93,486.13 321.20,487.00 321.47,488.05 321.73,490.09 322.00,491.00 322.27,492.44 322.53,492.31 322.80,494.00 323.07,495.32 323.33,493.86 323.60,495.00 323.73,494.43 323.87,494.60 324.00,494.00 324.27,498.82 324.53,501.05 324.80,505.00 325.07,505.49 325.33,506.53 325.60,506.00 325.87,504.72 326.13,503.41 326.40,501.00 326.67,500.35 326.93,498.47 327.20,497.00 327.47,496.73 327.73,496.26 328.00,495.00 328.27,493.60 328.53,493.41 328.80,491.00 329.07,488.90 329.33,488.98 329.60,489.00 329.87,487.97 330.13,485.25 330.40,483.00 330.67,482.17 330.93,482.55 331.20,482.00 331.47,483.05 331.73,482.23 332.00,483.00 332.27,480.83 332.53,477.54 332.80,475.00 333.07,470.88 333.33,466.91 333.60,463.00 333.87,462.73 334.13,460.17 334.40,460.00 334.67,460.03 334.93,461.09 335.20,461.00 335.47,459.10 335.73,457.85 336.00,458.00 336.27,459.02 336.53,459.29 336.80,460.00 337.07,460.52 337.33,461.39 337.60,462.00 337.87,460.94 338.13,463.33 338.40,461.00 338.67,461.60 338.93,463.32 339.20,465.00 339.47,467.96 339.73,472.66 340.00,477.00 340.27,480.69 340.53,482.30 340.80,485.00 341.07,484.71 341.33,483.28 341.60,483.00 341.87,486.89 342.13,488.40 342.40,491.00 342.67,492.75 342.93,496.83 343.20,499.00 343.47,494.70 343.73,491.38 344.00,487.00 344.27,488.05 344.53,489.14 344.80,490.00 345.07,490.38 345.33,489.99 345.60,491.00 345.87,489.24 346.13,490.31 346.40,489.00 346.67,489.19 346.93,489.82 347.20,490.00 347.47,491.30 347.73,491.87 348.00,495.00 348.27,494.73 348.53,497.27 348.80,497.00 349.07,497.74 349.33,499.35 349.60,501.00 349.87,500.59 350.13,501.92 350.40,503.00 350.67,503.36 350.93,504.13 351.20,505.00 351.47,505.24 351.73,505.18 352.00,506.00 352.27,505.89 352.53,506.61 352.80,507.00 353.07,506.51 353.33,505.52 353.60,505.00 353.87,504.84 354.13,502.43 354.40,501.00 354.67,500.40 354.93,499.16 355.20,499.00 355.47,499.00 355.73,496.90 356.00,497.00 356.27,496.82 356.53,498.27 356.80,500.00 357.07,498.72 357.33,495.82 357.60,495.00 357.87,495.19 358.13,493.60 358.40,493.00 358.67,491.22 358.93,491.46 359.20,491.00 359.47,491.53 359.73,489.02 360.00,489.00 360.27,486.70 360.53,486.64 360.80,485.00 361.07,483.86 361.33,481.66 361.60,479.00 361.87,477.39 362.13,476.41 362.40,475.00 362.67,473.84 362.93,473.11 363.20,471.00 363.47,471.12 363.73,468.21 364.00,467.00 364.13,468.53 364.27,468.04 364.40,469.00 364.67,472.03 364.93,473.63 365.20,477.00 365.47,477.08 365.73,478.57 366.00,479.00 366.27,480.32 366.53,483.57 366.80,485.00 367.07,487.90 367.33,491.67 367.60,495.00 367.87,494.56 368.13,494.05 368.40,494.00 368.67,494.71 368.93,496.04 369.20,496.00 369.47,497.12 369.73,493.12 370.00,493.00 370.27,491.16 370.53,488.83 370.80,487.00 371.07,487.31 371.33,489.15 371.60,490.00 371.87,487.67 372.13,486.56 372.40,485.00 372.67,485.48 372.93,482.87 373.20,484.00 373.47,483.46 373.73,482.93 374.00,482.00 374.27,482.28 374.53,484.32 374.80,485.00 375.07,487.20 375.33,488.71 375.60,491.00 375.87,493.46 376.13,493.37 376.40,496.00 376.67,496.73 376.93,496.45 377.20,497.00 377.47,496.88 377.73,498.16 378.00,499.00 378.27,499.71 378.53,501.52 378.80,502.00 379.07,501.24 379.33,502.48 379.60,503.00 379.87,501.63 380.13,502.05 380.40,500.00 380.67,496.83 380.93,496.02 381.20,493.00 381.47,489.72 381.73,489.19 382.00,487.00 382.27,485.52 382.53,484.55 382.80,483.00 383.07,481.12 383.33,478.91 383.60,479.00 383.87,477.20 384.13,478.53 384.40,477.00 384.67,474.43 384.93,471.01 385.20,469.00 385.47,468.24 385.73,465.75 386.00,465.00 386.27,463.76 386.53,462.76 386.80,463.00 387.07,463.10 387.33,462.98 387.60,461.00 387.73,460.60 387.87,461.81 388.00,462.00"/>
<line x1="29.3" y1="471.2" x2="387.8" y2="488.2" stroke="#3a7a32" stroke-width="1.2" stroke-dasharray="3 1"/>
<text x="233.5" y="435.60" font-size="5.3" font-style="italic" fill="#333" textLength="93.5" lengthAdjust="spacingAndGlyphs">y = −3.081 × 10<tspan dy='-1.6' font-size='3.2'>−5</tspan><tspan dy='1.6'> × x + −8.925 × 10</tspan><tspan dy='-1.6' font-size='3.2'>−2</tspan></text>
<line x1="310.2" x2="314" y1="528.3" y2="528.3" stroke="#2f5f2f" stroke-width="0.9"/>
<text x="315.3" y="529.9" font-size="4.5" font-style="italic" fill="#333" textLength="11.3" lengthAdjust="spacingAndGlyphs">Trend</text>
<line x1="333" x2="336.8" y1="528.3" y2="528.3" stroke="#d6cb90" stroke-width="0.9"/>
<text x="338" y="529.9" font-size="4.5" font-style="italic" fill="#333" textLength="14.2" lengthAdjust="spacingAndGlyphs">SPI = −1</text>
<line x1="355.8" x2="359.6" y1="528.3" y2="528.3" stroke="#8a7e86" stroke-width="0.9"/>
<text x="360.3" y="529.9" font-size="4.5" font-style="italic" fill="#333" textLength="16.5" lengthAdjust="spacingAndGlyphs">SPI = −2</text>
</svg></body></html>
